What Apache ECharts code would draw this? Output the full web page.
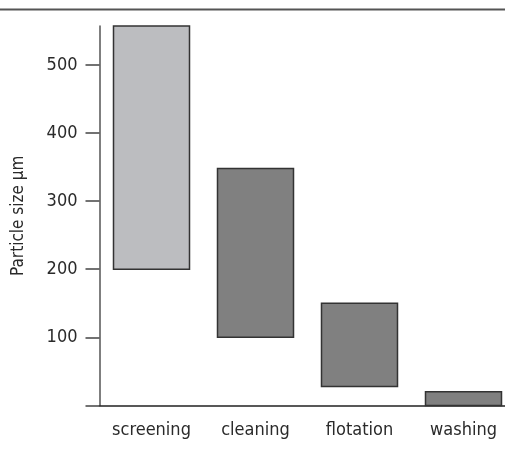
<!DOCTYPE html>
<html>
<head>
<meta charset="utf-8">
<script src="https://cdn.jsdelivr.net/npm/echarts@6/dist/echarts.min.js"></script>
<style>
html,body{margin:0;padding:0;background:#fff;}
#c{width:505px;height:451px;}
</style>
</head>
<body>
<div id="c"></div>
<script>
const categories = ['screening', 'cleaning', 'flotation', 'washing'];
const rangeMin = [200, 100, 28, 0];
const rangeMax = [557, 348, 150, 20];
const barColors = ['#bcbdc0', '#808080', '#808080', '#808080'];
const yTicks = [0, 100, 200, 300, 400, 500];
const yLabels = [100, 200, 300, 400, 500];

const chart = echarts.init(document.getElementById('c'), null, {renderer: 'canvas'});
const font = '"DejaVu Sans Condensed", "Liberation Sans", sans-serif';
chart.setOption({
  animation: false,
  graphic: [{
    type: 'line', shape: {x1: 0, y1: 9.5, x2: 505, y2: 9.5},
    style: {stroke: '#555', lineWidth: 2}, z: 10
  }],
  grid: {left: 99.5, top: 26, right: -10.5, bottom: 45.5, containLabel: false, outerBoundsMode: 'none'},
  xAxis: {
    type: 'category', data: categories, boundaryGap: true,
    axisLine: {show: true, lineStyle: {color: '#222', width: 1.5}},
    axisTick: {show: false},
    axisLabel: {interval: 0, margin: 16, fontFamily: font, fontSize: 18, color: '#2a2a2a'}
  },
  yAxis: {
    type: 'value', min: 0, max: 557, interval: 100,
    name: 'Particle size µm', nameLocation: 'middle', nameGap: 72,
    nameTextStyle: {fontFamily: font, fontSize: 17, color: '#2a2a2a'},
    axisLine: {show: true, lineStyle: {color: '#555', width: 1.5}},
    axisTick: {show: true, length: 14, customValues: yTicks, lineStyle: {color: '#444', width: 1.5}},
    axisLabel: {customValues: yLabels, margin: 22, fontFamily: font, fontSize: 18, color: '#2a2a2a'},
    splitLine: {show: false}
  },
  series: [{
    type: 'custom',
    data: categories.map((c, i) => [i, rangeMin[i], rangeMax[i]]),
    encode: {x: 0, y: [1, 2]},
    renderItem: function (params, api) {
      const i = api.value(0);
      const lo = api.coord([i, api.value(1)]);
      const hi = api.coord([i, api.value(2)]);
      const w = 76;
      return {
        type: 'rect',
        shape: {x: lo[0] - w / 2, y: hi[1], width: w, height: lo[1] - hi[1]},
        style: {fill: barColors[i], stroke: '#333', lineWidth: 1.5}
      };
    }
  }]
});
</script>
</body>
</html>
